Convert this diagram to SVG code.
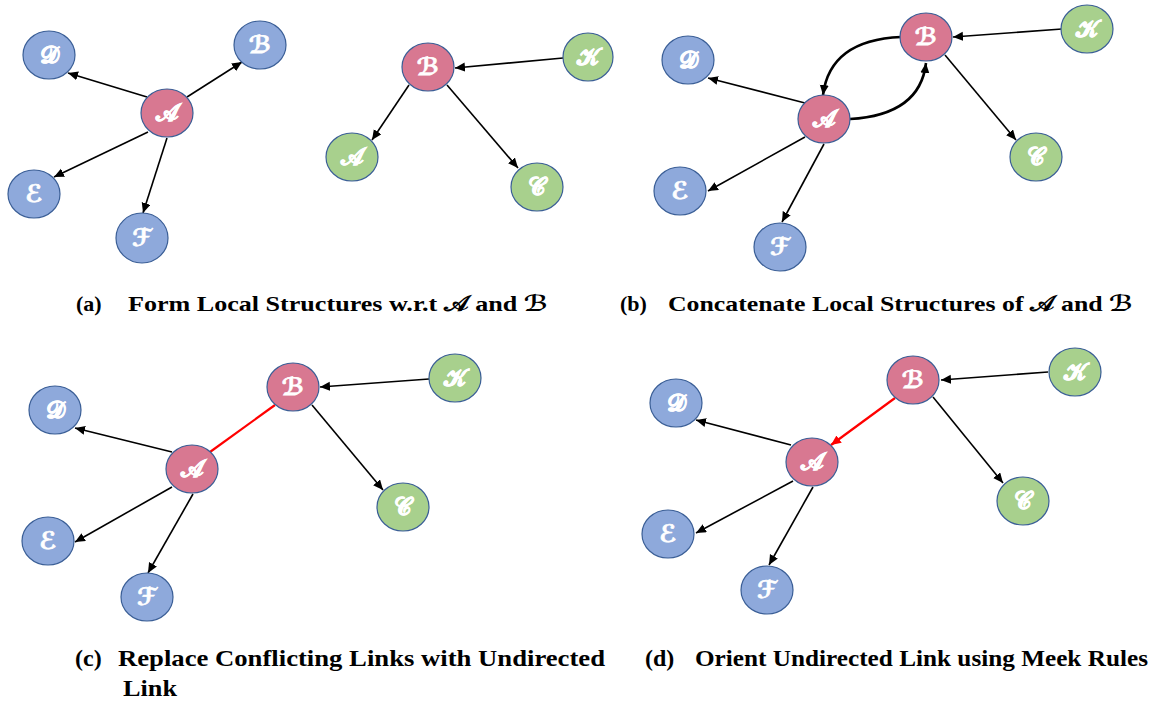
<svg xmlns="http://www.w3.org/2000/svg" width="1163" height="701" viewBox="0 0 1163 701">
  <style>
    .n ellipse { stroke: #3A5E96; stroke-width: 1.2; }
    .blue ellipse { fill: #8EA9DB; }
    .pink ellipse { fill: #D87891; }
    .green ellipse { fill: #A8D08D; }
    .n text { fill: #FFFFFF; stroke: #FFFFFF; stroke-width: 0.7; font-family: "DejaVu Sans", "DejaVu Serif", "Noto Sans", sans-serif; font-size: 24px; font-weight: bold; text-anchor: middle; dominant-baseline: central; }
    .e { stroke: #000; stroke-width: 1.6; fill: none; marker-end: url(#ah); }
    .thick { stroke-width: 2.6; }
    .red { stroke: #FF0000; stroke-width: 2.2; }
    .cap { font-family: "Liberation Serif", "Times New Roman", serif; font-weight: bold; font-size: 22px; fill: #000; }
    .capc { font-family: "Liberation Serif", "Times New Roman", serif; font-weight: bold; font-size: 24px; fill: #000; }
    .scr { font-family: "DejaVu Sans", "DejaVu Serif", sans-serif; font-size: 22px; }
  </style>
  <defs>
    <marker id="ah" markerUnits="userSpaceOnUse" markerWidth="12" markerHeight="10" refX="10" refY="4.5" orient="auto">
      <path d="M0,0 L10,4.5 L0,9 Z" fill="#000"/>
    </marker>
    <marker id="ahr" markerUnits="userSpaceOnUse" markerWidth="12" markerHeight="10" refX="10" refY="4.5" orient="auto">
      <path d="M0,0 L10,4.5 L0,9 Z" fill="#FF0000"/>
    </marker>
  </defs>

  <!-- connectors -->
  <g id="connectors">
    <!-- (a) local structure of A -->
    <line class="e" x1="147" y1="97" x2="68" y2="73"/>
    <line class="e" x1="187" y1="97" x2="242" y2="62"/>
    <line class="e" x1="148" y1="132" x2="54" y2="177"/>
    <line class="e" x1="167" y1="138" x2="143" y2="213"/>
    <!-- (a) local structure of B -->
    <line class="e" x1="563" y1="58" x2="455" y2="68"/>
    <line class="e" x1="409" y1="85" x2="372" y2="140"/>
    <line class="e" x1="447" y1="85" x2="518" y2="168"/>
    <!-- (b) concatenated -->
    <line class="e" x1="1062" y1="29" x2="953" y2="37"/>
    <line class="e" x1="945" y1="55" x2="1016" y2="140"/>
    <line class="e" x1="805" y1="103" x2="708" y2="78"/>
    <line class="e" x1="805" y1="137" x2="708" y2="191"/>
    <line class="e" x1="824" y1="144" x2="782" y2="222"/>
    <path class="e thick" d="M901,37 Q830,40 823,95"/>
    <path class="e thick" d="M850,119 Q920,115 926,63"/>
    <!-- (c) undirected -->
    <line class="e" x1="429" y1="379" x2="320" y2="387"/>
    <line class="e" x1="312" y1="405" x2="383" y2="490"/>
    <line class="e" x1="172" y1="452" x2="75" y2="428"/>
    <line class="e" x1="172" y1="487" x2="75" y2="542"/>
    <line class="e" x1="193" y1="494" x2="148" y2="573"/>
    <line stroke="#FF0000" stroke-width="2.2" x1="210" y1="452" x2="275" y2="405"/>
    <!-- (d) oriented -->
    <line class="e" x1="1048" y1="372" x2="941" y2="380"/>
    <line class="e" x1="933" y1="397" x2="1003" y2="483"/>
    <line class="e" x1="791" y1="445" x2="696" y2="420"/>
    <line class="e" x1="793" y1="481" x2="696" y2="533"/>
    <line class="e" x1="813" y1="487" x2="769" y2="565"/>
    <line class="e red" style="marker-end:url(#ahr)" x1="895" y1="398" x2="831" y2="445"/>
  </g>

  <!-- (a) nodes, structure of A -->
  <g id="a1-D" class="n blue"><ellipse cx="49" cy="55" rx="26" ry="24"/><text x="49" y="55">𝒟</text></g>
  <g id="a1-B" class="n blue"><ellipse cx="260" cy="45" rx="26" ry="24"/><text x="260" y="45">ℬ</text></g>
  <g id="a1-A" class="n pink"><ellipse cx="167" cy="113" rx="26" ry="24"/><text x="167" y="113">𝒜</text></g>
  <g id="a1-E" class="n blue"><ellipse cx="34" cy="194" rx="26" ry="24"/><text x="34" y="194">ℰ</text></g>
  <g id="a1-F" class="n blue"><ellipse cx="142" cy="238" rx="26" ry="25"/><text x="142" y="238">ℱ</text></g>
  <!-- (a) nodes, structure of B -->
  <g id="a2-B" class="n pink"><ellipse cx="428" cy="67" rx="26" ry="24"/><text x="428" y="67">ℬ</text></g>
  <g id="a2-K" class="n green"><ellipse cx="588" cy="57" rx="25" ry="24"/><text x="588" y="57">𝒦</text></g>
  <g id="a2-A" class="n green"><ellipse cx="352" cy="157" rx="26" ry="24"/><text x="352" y="157">𝒜</text></g>
  <g id="a2-C" class="n green"><ellipse cx="537" cy="187" rx="26" ry="24"/><text x="537" y="187">𝒞</text></g>

  <!-- (b) nodes -->
  <g id="b-D" class="n blue"><ellipse cx="688" cy="60" rx="26" ry="24"/><text x="688" y="60">𝒟</text></g>
  <g id="b-B" class="n pink"><ellipse cx="926" cy="37" rx="26" ry="24"/><text x="926" y="37">ℬ</text></g>
  <g id="b-A" class="n pink"><ellipse cx="824" cy="119" rx="26" ry="24"/><text x="824" y="119">𝒜</text></g>
  <g id="b-E" class="n blue"><ellipse cx="680" cy="191" rx="26" ry="24"/><text x="680" y="191">ℰ</text></g>
  <g id="b-F" class="n blue"><ellipse cx="780" cy="247" rx="26" ry="24"/><text x="780" y="247">ℱ</text></g>
  <g id="b-K" class="n green"><ellipse cx="1087" cy="29" rx="26" ry="24"/><text x="1087" y="29">𝒦</text></g>
  <g id="b-C" class="n green"><ellipse cx="1036" cy="157" rx="26" ry="24"/><text x="1036" y="157">𝒞</text></g>

  <!-- (c) nodes -->
  <g id="c-D" class="n blue"><ellipse cx="55" cy="410" rx="26" ry="24"/><text x="55" y="410">𝒟</text></g>
  <g id="c-B" class="n pink"><ellipse cx="293" cy="387" rx="26" ry="24"/><text x="293" y="387">ℬ</text></g>
  <g id="c-K" class="n green"><ellipse cx="455" cy="378" rx="26" ry="24"/><text x="455" y="378">𝒦</text></g>
  <g id="c-A" class="n pink"><ellipse cx="192" cy="469" rx="26" ry="24"/><text x="192" y="469">𝒜</text></g>
  <g id="c-C" class="n green"><ellipse cx="403" cy="507" rx="26" ry="24"/><text x="403" y="507">𝒞</text></g>
  <g id="c-E" class="n blue"><ellipse cx="48" cy="541" rx="26" ry="24"/><text x="48" y="541">ℰ</text></g>
  <g id="c-F" class="n blue"><ellipse cx="147" cy="597" rx="26" ry="24"/><text x="147" y="597">ℱ</text></g>

  <!-- (d) nodes -->
  <g id="d-D" class="n blue"><ellipse cx="676" cy="403" rx="26" ry="24"/><text x="676" y="403">𝒟</text></g>
  <g id="d-B" class="n pink"><ellipse cx="913" cy="380" rx="26" ry="24"/><text x="913" y="380">ℬ</text></g>
  <g id="d-K" class="n green"><ellipse cx="1075" cy="372" rx="26" ry="24"/><text x="1075" y="372">𝒦</text></g>
  <g id="d-A" class="n pink"><ellipse cx="812" cy="462" rx="26" ry="24"/><text x="812" y="462">𝒜</text></g>
  <g id="d-C" class="n green"><ellipse cx="1023" cy="501" rx="26" ry="24"/><text x="1023" y="501">𝒞</text></g>
  <g id="d-E" class="n blue"><ellipse cx="668" cy="534" rx="26" ry="24"/><text x="668" y="534">ℰ</text></g>
  <g id="d-F" class="n blue"><ellipse cx="767" cy="590" rx="26" ry="24"/><text x="767" y="590">ℱ</text></g>

  <!-- captions -->
  <g id="captions">
    <text class="cap" x="76" y="311">(a)</text>
    <text class="cap" x="128" y="311" textLength="420" lengthAdjust="spacingAndGlyphs">Form Local Structures w.r.t <tspan class="scr">𝒜</tspan> and <tspan class="scr">ℬ</tspan></text>
    <text class="cap" x="620" y="311">(b)</text>
    <text class="cap" x="668" y="311" textLength="465" lengthAdjust="spacingAndGlyphs">Concatenate Local Structures of <tspan class="scr">𝒜</tspan> and <tspan class="scr">ℬ</tspan></text>
    <text class="capc" x="75" y="666">(c)</text>
    <text class="capc" x="118" y="666" textLength="487" lengthAdjust="spacingAndGlyphs">Replace Conflicting Links with Undirected</text>
    <text class="capc" x="123" y="696" textLength="54" lengthAdjust="spacingAndGlyphs">Link</text>
    <text class="capc" x="645" y="666">(d)</text>
    <text class="capc" x="695" y="666" textLength="453" lengthAdjust="spacingAndGlyphs">Orient Undirected Link using Meek Rules</text>
  </g>
</svg>
